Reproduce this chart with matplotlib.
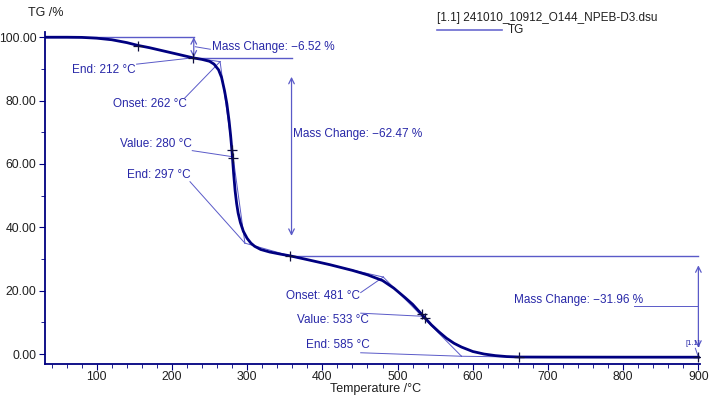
import numpy as np
import matplotlib.pyplot as plt

plt.rcParams['font.family'] = ['Liberation Sans', 'DejaVu Sans']

# TG curve
temp = [30, 60, 80, 100, 120, 140, 155, 170, 190, 210, 228, 240, 250, 256, 262,
        266, 270, 273, 276, 278, 280, 282, 284, 286, 288, 291, 295, 300, 305,
        310, 318, 330, 345, 357, 380, 410, 440, 460, 480, 495, 510, 520, 533,
        545, 555, 565, 575, 585, 600, 615, 630, 645, 662, 700, 800, 900]
tg = [100, 100, 99.95, 99.7, 99.2, 98.3, 97.4, 96.7, 95.6, 94.5, 93.5, 93.0,
      92.4, 91.5, 89.7, 87.3, 83.0, 79.0, 73.5, 69.0, 63.5, 57.0, 51.5, 47.5,
      44.5, 41.5, 38.7, 36.5, 35.0, 34.0, 33.0, 32.2, 31.5, 31.0, 29.8, 28.2,
      26.4, 25.0, 23.2, 20.8, 17.8, 15.7, 12.3, 9.2, 7.0, 5.0, 3.4, 2.2, 0.8,
      0.0, -0.5, -0.8, -0.95, -0.97, -0.99, -1.0]

# step levels and characteristic points
level_start = 100.0
level_1 = 93.5
level_2 = 31.0
marks_t = [155, 228, 280, 281, 357, 533, 536, 662, 900]
marks_v = [97.3, 93.5, 64.3, 62.0, 31.0, 12.5, 11.5, -0.95, -1.0]

navy = '#000080'
line_c = '#5a5ac8'
text_c = '#2828a8'

fig = plt.figure(figsize=(7.12, 3.98), dpi=100)
ax = fig.add_axes([0.063, 0.085, 0.920, 0.835])

ax.plot(temp, tg, color=navy, lw=2.0, zorder=5)
ax.plot(marks_t, marks_v, '+', color='#101040', ms=7, mew=0.9, zorder=6)

# step 1
ax.plot([31, 229], [level_start, level_start], color=line_c, lw=1.0)
ax.plot([228, 359], [level_1, level_1], color=line_c, lw=1.0)
ax.annotate('', xy=(229, 100.0), xytext=(229, 93.6),
            arrowprops=dict(arrowstyle='<->', color=line_c, lw=0.9, shrinkA=0, shrinkB=0))
ax.plot([231, 251], [97.0, 96.2], color=line_c, lw=0.7)
ax.text(253, 96.9, 'Mass Change: \u22126.52 %', color=text_c, fontsize=8.5, va='center')
ax.text(110, 89.6, 'End: 212 °C', color=text_c, fontsize=8.5, va='center', ha='center')
ax.plot([153, 228], [91.5, 93.5], color=line_c, lw=0.7)

# step 1 -> 2 tangents
ax.plot([228, 264], [93.5, 92.3], color=line_c, lw=0.7)
ax.plot([264, 297], [92.3, 35.0], color=line_c, lw=0.7)
ax.plot([297, 357], [35.0, 31.0], color=line_c, lw=0.7)
ax.text(171, 78.9, 'Onset: 262 °C', color=text_c, fontsize=8.5, va='center', ha='center')
ax.plot([217, 264], [80.8, 92.3], color=line_c, lw=0.7)
ax.text(179, 66.2, 'Value: 280 °C', color=text_c, fontsize=8.5, va='center', ha='center')
ax.plot([227, 280], [64.2, 62.3], color=line_c, lw=0.7)
ax.text(183, 56.5, 'End: 297 °C', color=text_c, fontsize=8.5, va='center', ha='center')
ax.plot([224, 297], [54.4, 35.0], color=line_c, lw=0.7)

# step 2
ax.annotate('', xy=(359, 87.5), xytext=(359, 37.3),
            arrowprops=dict(arrowstyle='<->', color=line_c, lw=0.9, shrinkA=0, shrinkB=0))
ax.text(361, 69.3, 'Mass Change: \u221262.47 %', color=text_c, fontsize=8.5, va='center')
ax.plot([357, 900], [level_2, level_2], color=line_c, lw=1.0)

# step 2 -> 3 tangents
ax.plot([357, 481], [31.0, 24.3], color=line_c, lw=0.7)
ax.plot([481, 585], [24.3, -0.7], color=line_c, lw=0.7)
ax.plot([585, 662], [-0.7, -0.95], color=line_c, lw=0.7)
ax.text(401, 18.3, 'Onset: 481 °C', color=text_c, fontsize=8.5, va='center', ha='center')
ax.plot([451, 481], [19.4, 24.3], color=line_c, lw=0.7)
ax.text(414, 10.7, 'Value: 533 °C', color=text_c, fontsize=8.5, va='center', ha='center')
ax.plot([451, 535], [12.9, 11.9], color=line_c, lw=0.7)
ax.text(420, 2.8, 'End: 585 °C', color=text_c, fontsize=8.5, va='center', ha='center')
ax.plot([451, 585], [0.4, -0.7], color=line_c, lw=0.7)

# step 3
ax.annotate('', xy=(900, 28.0), xytext=(900, 2.0),
            arrowprops=dict(arrowstyle='<->', color=line_c, lw=0.9, shrinkA=0, shrinkB=0))
ax.text(655, 17.0, 'Mass Change: \u221231.96 %', color=text_c, fontsize=8.5, va='center')
ax.plot([815, 900], [15.1, 15.1], color=line_c, lw=0.7)
ax.text(893, 3.3, '[1.1]', color=text_c, fontsize=5.5, va='center', ha='center')
ax.plot([896, 900], [1.8, -1.0], color=line_c, lw=0.7)

# legend block
fig.text(0.614, 0.955, '[1.1] 241010_10912_O144_NPEB-D3.dsu', fontsize=8.5, color='#202020', va='center')
fig.add_artist(plt.Line2D([0.614, 0.705], [0.925, 0.925], color='#6a6ad0', lw=1.2))
fig.text(0.713, 0.925, 'TG', fontsize=8.5, color='#202020', va='center')

ax.set_xlim(31, 902)
ax.set_ylim(-3.2, 101.7)
ax.set_xticks(np.arange(100, 901, 100))
ax.set_xticks(np.arange(40, 901, 20), minor=True)
ax.set_yticks(np.arange(0, 101, 20))
ax.set_yticks(np.arange(10, 101, 20), minor=True)
ax.set_yticklabels(['%.2f' % v for v in np.arange(0, 101, 20)])

for s in ['top', 'right']:
    ax.spines[s].set_visible(False)
for s in ['left', 'bottom']:
    ax.spines[s].set_color(navy)
    ax.spines[s].set_linewidth(1.3)
ax.tick_params(which='both', direction='out', colors=navy, labelcolor='#202020', labelsize=8.8)
ax.tick_params(which='major', length=4)
ax.tick_params(which='minor', length=3)
ax.tick_params(axis='y', pad=2)
ax.tick_params(axis='x', pad=1)

fig.text(0.040, 0.968, 'TG /%', fontsize=9, color='#202020', va='center')
ax.set_xlabel('Temperature /°C', fontsize=9, color='#202020')
ax.xaxis.set_label_coords(0.505, -0.057)

fig.savefig('out.png', dpi=100)
